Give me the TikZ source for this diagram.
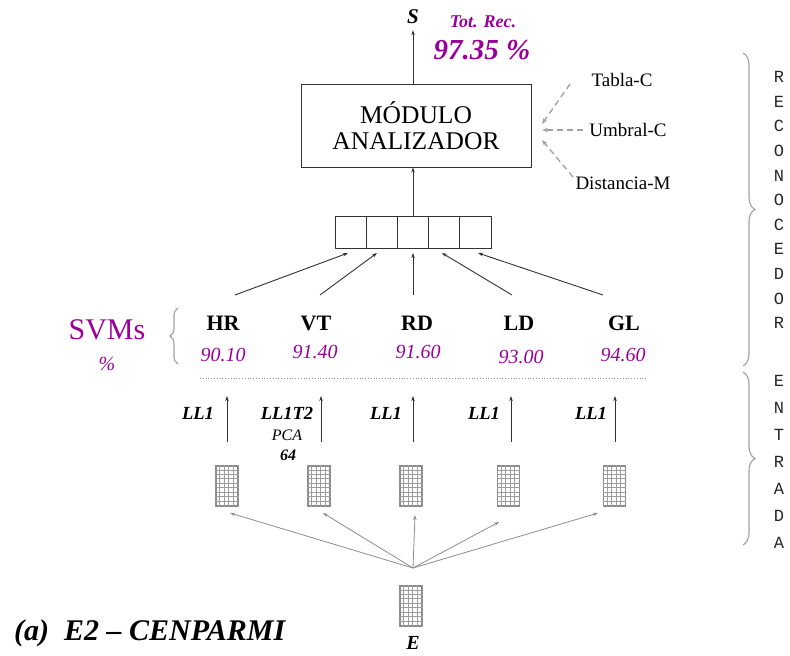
\documentclass[tikz,border=0pt]{standalone}
\usepackage{fontspec}
\setmainfont{Liberation Serif}
\newfontfamily\monof{Liberation Mono}
\usetikzlibrary{arrows.meta,calc,decorations.pathreplacing}
\definecolor{purp}{RGB}{153,0,153}
\definecolor{dgray}{RGB}{50,50,50}
\definecolor{lgray}{RGB}{160,160,160}
\definecolor{mgray}{RGB}{140,140,140}
\newcommand\fs[1]{\fontsize{#1}{#1}\selectfont}
\newcommand\gicon[3]{%
  \node[iconbox] (#1) at (#2,#3) {};
  \foreach \k in {1,...,4}
    \draw[gridline] ($(#1.north west)+(\k*4.4,0)$) -- ($(#1.south west)+(\k*4.4,0)$);
  \foreach \k in {1,...,8}
    \draw[gridline] ($(#1.north west)+(0,\k*4.444)$) -- ($(#1.north east)+(0,\k*4.444)$);
}
\begin{document}
\begin{tikzpicture}[x=1pt,y=-1pt,
  lab/.style={inner sep=0pt},
  main/.style={draw=dgray, line width=0.9pt, -{Stealth[length=5pt,width=3.5pt]}},
  dasharr/.style={draw=lgray, line width=1.3pt, dash pattern=on 6pt off 4pt, -{Stealth[length=6pt,width=4.5pt]}},
  fanarr/.style={draw=mgray, line width=0.8pt, -{Stealth[length=5pt,width=3.5pt]}},
  cell/.style={draw=dgray, line width=1pt, minimum width=31.2pt, minimum height=32pt, inner sep=0pt, outer sep=0pt},
  iconbox/.style={draw=mgray, line width=1.3pt, minimum width=22pt, minimum height=40pt, inner sep=0pt},
  gridline/.style={draw=mgray!85, line width=0.6pt},
  brc/.style={draw=lgray, line width=1.1pt, decorate},
  svm/.style={lab, font=\fs{22}\bfseries},
  pct/.style={lab, font=\fs{20}\itshape, text=purp},
  feat/.style={lab, font=\fs{18.5}\bfseries\itshape},
  side/.style={lab, font=\fs{19}},
  vlet/.style={lab, font=\monof\fs{17}, text=black!85}]
\useasboundingbox (0,0) rectangle (790,656);

% top
\node[lab, font=\fs{21}\bfseries\itshape] (S) at (413,17) {S};
\node[lab, font=\fs{18}\bfseries\itshape, text=purp] (tot) at (483,22) {Tot. Rec.};
\node[lab, font=\fs{29}\bfseries\itshape, text=purp] (acc) at (482,50) {97.35 \%};

% module box
\node[draw=dgray, line width=1pt, minimum width=230pt, minimum height=83pt, inner sep=0pt,
      align=center, font=\fontsize{25.5}{26.5}\selectfont] (mod) at (416,125.5) {MÓDULO\\ANALIZADOR};
\draw[main, shorten >=6pt] (mod.north -| S) -- (S);

% side inputs
\node[side] (tab) at (622,80) {Tabla-C};
\node[side] (umb) at (628,130) {Umbral-C};
\node[side] (dis) at (623,183) {Distancia-M};
\coordinate (d1) at (570,84);
\coordinate (d2) at (583,130);
\coordinate (d3) at (573,177);
\coordinate (g1) at (542,124);
\coordinate (g2) at (542,130);
\coordinate (g3) at (542,140);
\draw[dasharr] (d1) -- (g1);
\draw[dasharr] (d2) -- (g2);
\draw[dasharr] (d3) -- (g3);

% vector
\foreach \i in {1,...,5}
  \node[cell] (c\i) at ({350.6+31.2*(\i-1)},232) {};
\draw[main] (c3.north) -- (c3.north |- mod.south);

% SVMs
\node[lab, font=\fs{30}, text=purp] (svms) at (107,330) {SVMs};
\node[lab, font=\fs{20}\itshape, text=purp] (svp) at (107,364) {\%};
\draw[brc, decoration={brace, amplitude=8pt}] (178,364) -- (178,308);

\node[svm] (hr) at (223,323) {HR};
\node[svm] (vt) at (316,323) {VT};
\node[svm] (rd) at (417,323) {RD};
\node[svm] (ld) at (519,323) {LD};
\node[svm] (gl) at (624,323) {GL};

\node[pct] (p1) at (223,355) {90.10};
\node[pct] (p2) at (315,352) {91.40};
\node[pct] (p3) at (418,352) {91.60};
\node[pct] (p4) at (521,357) {93.00};
\node[pct] (p5) at (623,355) {94.60};

\coordinate (s1) at (235,295);
\coordinate (s2) at (320,295);
\coordinate (s3) at (413,295);
\coordinate (s4) at (512,295);
\coordinate (s5) at (603,295);
\coordinate (e1) at (348,253);
\coordinate (e2) at (377,253);
\coordinate (e3) at (413,253);
\coordinate (e4) at (442,253);
\coordinate (e5) at (478,253);
\foreach \i in {1,...,5}
  \draw[main] (s\i) -- (e\i);

% separator
\draw[draw=mgray, line width=0.8pt, dotted] (200,378) -- (647,378);

% feature labels and arrows
\node[feat] (l1) at (198,413) {LL1};
\node[feat] (l2) at (287,413) {LL1T2};
\node[lab, font=\fs{16}\itshape] (pca) at (287,435) {PCA};
\node[lab, font=\fs{16}\bfseries\itshape] (n64) at (288,455) {64};
\node[feat] (l3) at (386,413) {LL1};
\node[feat] (l4) at (484,413) {LL1};
\node[feat] (l5) at (591,413) {LL1};

\foreach \i/\x in {1/227,2/321,3/413,4/511,5/615}{
  \coordinate (b\i) at (\x,442);
  \coordinate (t\i) at (\x,396);
  \draw[main] (b\i) -- (t\i);
}

% icons
\gicon{i1}{227}{486}
\gicon{i2}{319}{486}
\gicon{i3}{411}{486}
\gicon{i4}{508.5}{486}
\gicon{i5}{614.5}{486}
\gicon{ie}{411}{606}
\node[lab, font=\fs{20}\bfseries\itshape] (E) at (413,643) {E};

\coordinate (fo) at (413,568);
\coordinate (f1) at (230,513);
\coordinate (f2) at (323,513);
\coordinate (f3) at (415,515);
\coordinate (f4) at (499,522);
\coordinate (f5) at (598,513);
\foreach \i in {1,...,5}
  \draw[fanarr] (fo) -- (f\i);

% caption
\node[lab, anchor=west, font=\fs{30}\bfseries\itshape] (cap) at (14,633) {(a)\ \ E2 -- CENPARMI};

% right braces and vertical words
\draw[brc, decoration={brace, amplitude=12pt}] (743,53) -- (743,366);
\draw[brc, decoration={brace, amplitude=12pt}] (743,372) -- (743,545);
\foreach \l [count=\i] in {R,E,C,O,N,O,C,E,D,O,R}
  \node[vlet] (r\i) at (779,{77+24.6*(\i-1)}) {\l};
\foreach \l [count=\i] in {E,N,T,R,A,D,A}
  \node[vlet] (n\i) at (779,{381+27*(\i-1)}) {\l};
\end{tikzpicture}
\end{document}
